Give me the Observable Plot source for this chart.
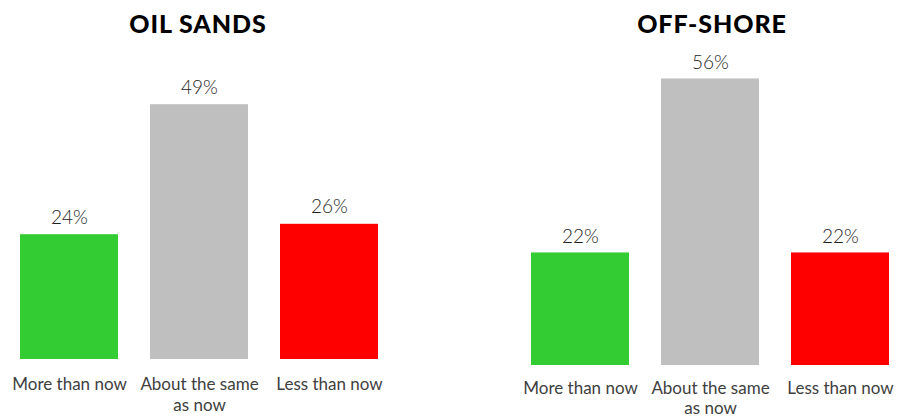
<!DOCTYPE html>
<html>
<head>
<meta charset="utf-8">
<script src="https://cdn.jsdelivr.net/npm/d3@7"></script>
<script src="https://cdn.jsdelivr.net/npm/@observablehq/plot@0.6"></script>
<style>
  html, body { margin: 0; padding: 0; background: #fff; }
  #wrap { position: relative; width: 898px; height: 419px; overflow: hidden; font-family: Lato, "Noto Sans", sans-serif; }
  .panel { position: absolute; top: 0; width: 449px; height: 419px; }
  .panel svg { position: absolute; left: 0; top: 0; }
  .title { position: absolute; top: 8px; font-weight: 900; font-size: 25px; color: #000; text-align: center; white-space: nowrap; transform: translateX(-50%); letter-spacing: 0.9px; }
</style>
</head>
<body>
<div id="wrap"></div>
<script>
const categories = ["More than now", "About the same as now", "Less than now"];
const tickLabels = ["More than now", "About the same\nas now", "Less than now"];
const barColors = ["#33cc33", "#bfbfbf", "#ff0000"];
const panelTitles = ["OIL SANDS", "OFF-SHORE"];
const oilSands = [24, 49, 26];
const offShore = [22, 56, 22];

function panel(values, cfg) {
  const data = categories.map((c, i) => ({category: c, value: values[i]}));
  return Plot.plot({
    width: 449,
    height: 419,
    marginLeft: cfg.ml,
    marginRight: cfg.mr,
    marginTop: cfg.mt,
    marginBottom: cfg.mb,
    style: {fontFamily: "Lato, 'Noto Sans', sans-serif", color: "#404040", background: "transparent"},
    x: {domain: categories, paddingInner: 0.246, paddingOuter: 0, axis: null},
    y: {domain: [0, 60], axis: null},
    color: {domain: categories, range: barColors},
    marks: [
      Plot.barY(data, {x: "category", y: "value", fill: "category"}),
      Plot.text(data, {x: "category", y: "value", text: d => d.value + "%", lineAnchor: "bottom", dy: cfg.vdy, fontSize: 19, fontWeight: 300, fill: "#1e1e1e"}),
      Plot.axisX({tickSize: 0, tickPadding: cfg.tp, fontSize: 17, lineHeight: cfg.lh, tickFormat: d => tickLabels[categories.indexOf(d)], label: null})
    ]
  });
}

const wrap = document.getElementById("wrap");
const cfgs = [
  {left: 0, ml: 19, mr: 70, mt: 47, mb: 60, vdy: -11, tp: 15, lh: 1.27, tcx: 198},
  {left: 449, ml: 82, mr: 8, mt: 58, mb: 54, vdy: -10, tp: 14, lh: 1.2, tcx: 263}
];
[oilSands, offShore].forEach((vals, i) => {
  const cfg = cfgs[i];
  const div = document.createElement("div");
  div.className = "panel";
  div.style.left = cfg.left + "px";
  div.appendChild(panel(vals, cfg));
  const t = document.createElement("div");
  t.className = "title";
  t.style.left = cfg.tcx + "px";
  t.textContent = panelTitles[i];
  div.appendChild(t);
  wrap.appendChild(div);
});
</script>
</body>
</html>
